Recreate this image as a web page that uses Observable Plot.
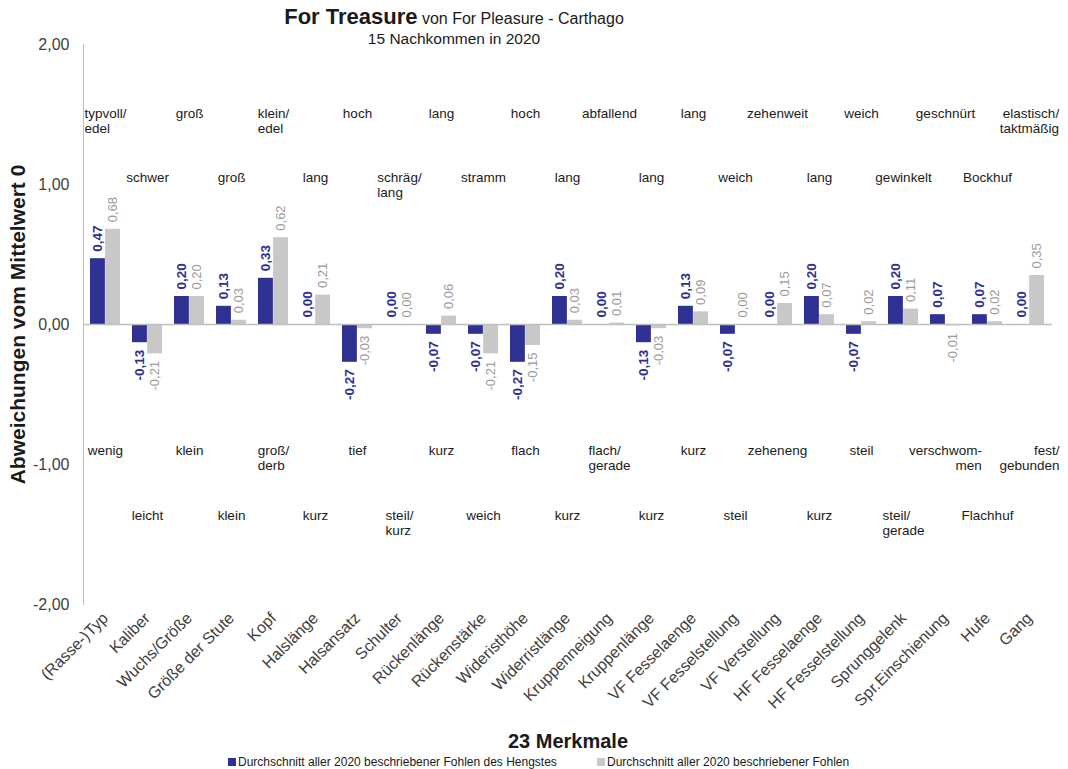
<!DOCTYPE html>
<html>
<head>
<meta charset="utf-8">
<script src="https://cdn.jsdelivr.net/npm/d3@7"></script>
<script src="https://cdn.jsdelivr.net/npm/@observablehq/plot@0.6"></script>
<style>
  body { margin: 0; background: #fff; font-family: "Liberation Sans", Arial, sans-serif; }
  #wrap { position: relative; width: 1068px; height: 769px; overflow: hidden; }
  #chart { position: absolute; left: 0; top: 0; }
  #title { position: absolute; left: 0; top: 6px; width: 908px; text-align: center; color: #1a1a1a; }
  #title .l1 { font-size: 16px; line-height: 22px; }
  #title .l1 b { font-size: 22px; }
  #title .l2 { font-size: 15.5px; line-height: 18px; }
  #legend { position: absolute; top: 755px; left: 0; width: 1068px; font-size: 12px; color: #1a1a1a; }
  #legend .item { position: absolute; white-space: nowrap; }
  #legend .sw { display: inline-block; width: 8px; height: 8px; margin-right: 2px; vertical-align: 0px; }
</style>
</head>
<body>
<div id="wrap">
  <div id="chart"></div>
  <div id="title">
    <div class="l1"><b>For Treasure</b> von For Pleasure - Carthago</div>
    <div class="l2">15 Nachkommen in 2020</div>
  </div>
  <div id="legend"></div>
</div>
<script>
// 23 Merkmale (linear beschriebene Exterieur- und Gangmerkmale)
const merkmale = [
  "(Rasse-)Typ", "Kaliber", "Wuchs/Größe", "Größe der Stute", "Kopf", "Halslänge",
  "Halsansatz", "Schulter", "Rückenlänge", "Rückenstärke", "Wideristhöhe", "Widerristlänge",
  "Kruppenneigung", "Kruppenlänge", "VF Fesselaenge", "VF Fesselstellung", "VF Verstellung",
  "HF Fesselaenge", "HF Fesselstellung", "Sprunggelenk", "Spr.Einschienung", "Hufe", "Gang"
];

// Durchschnitt der Fohlen des Hengstes
const hengst = [
  0.47, -0.13, 0.20, 0.13, 0.33, 0.00, -0.27, 0.00, -0.07, -0.07, -0.27, 0.20,
  0.00, -0.13, 0.13, -0.07, 0.00, 0.20, -0.07, 0.20, 0.07, 0.07, 0.00
];

// Durchschnitt aller beschriebenen Fohlen
const alle = [
  0.68, -0.21, 0.20, 0.03, 0.62, 0.21, -0.03, 0.00, 0.06, -0.21, -0.15, 0.03,
  0.01, -0.03, 0.09, 0.00, 0.15, 0.07, 0.02, 0.11, -0.01, 0.02, 0.35
];

// Ausprägung am positiven Ende der Skala
const oben = [
  "typvoll/\nedel", "schwer", "groß", "groß", "klein/\nedel", "lang", "hoch", "schräg/\nlang",
  "lang", "stramm", "hoch", "lang", "abfallend", "lang", "lang", "weich", "zehenweit",
  "lang", "weich", "gewinkelt", "geschnürt", "Bockhuf", "elastisch/\ntaktmäßig"
];

// Ausprägung am negativen Ende der Skala
const unten = [
  "wenig", "leicht", "klein", "klein", "groß/\nderb", "kurz", "tief", "steil/\nkurz",
  "kurz", "weich", "flach", "kurz", "flach/\ngerade", "kurz", "kurz", "steil", "zeheneng",
  "kurz", "steil", "steil/\ngerade", "verschwom-\nmen", "Flachhuf", "fest/\ngebunden"
];

const yTicks = [-2, -1, 0, 1, 2];
const serien = ["Durchschnitt aller 2020 beschriebener Fohlen des Hengstes", "Durchschnitt aller 2020 beschriebener Fohlen"];
const yTitel = "Abweichungen vom Mittelwert 0";
const xTitel = "23 Merkmale";

const BLAU = "#2E3192";
const GRAU = "#C8C8C8";
const GRAU_TEXT = "#9B9B9B";

const fmt = (v) => v.toFixed(2).replace(".", ",");

// layout
const W = 1068, H = 769;
const mL = 83, mR = 16, mT = 44, mB = H - 604;
const padIn = 0.28, padOut = 0.167;
const step = (W - mL - mR) / (merkmale.length - padIn + 2 * padOut);
const bw = step * (1 - padIn);
const half = bw / 2;
const FONT = "'Liberation Sans', Arial, sans-serif";
const DESCR_SIZE = 13.5;

const rows = merkmale.map((m, i) => ({
  merkmal: m, i, hengst: hengst[i], alle: alle[i], oben: oben[i], unten: unten[i]
}));

const textBase = {fontFamily: FONT};

// rotated value labels: above positive bars, below negative ones
const valueLabels = (key, color, weight, size, dx) => {
  const pos = rows.filter((d) => d[key] >= 0);
  const neg = rows.filter((d) => d[key] < 0);
  const common = {x: "merkmal", y: key, text: (d) => fmt(d[key]), rotate: -90, lineAnchor: "middle",
    fill: color, fontWeight: weight, fontSize: size, dx, ...textBase};
  return [
    Plot.text(pos, {...common, textAnchor: "start", dy: -7}),
    Plot.text(neg, {...common, textAnchor: "end", dy: 7})
  ];
};

// two-line descriptors are set as left- or right-aligned blocks
const rechtsbuendig = new Set(["elastisch/\ntaktmäßig", "verschwom-\nmen", "fest/\ngebunden"]);
const ctx = document.createElement("canvas").getContext("2d");
ctx.font = `${DESCR_SIZE}px ${FONT}`;
const blockWidth = (s) => Math.max(...s.split("\n").map((l) => ctx.measureText(l).width));

const descrStyle = {frameAnchor: "top", lineAnchor: "top", fontSize: DESCR_SIZE, lineHeight: 1.15, fill: "#1a1a1a", ...textBase};
const descr = (data, key, dy) => {
  const single = data.filter((d) => !d[key].includes("\n"));
  const multi = data.filter((d) => d[key].includes("\n"));
  return [
    Plot.text(single, {x: "merkmal", text: key, dy, ...descrStyle}),
    ...multi.map((d) => {
      const right = rechtsbuendig.has(d[key]);
      const w = blockWidth(d[key]);
      return Plot.text([d], {x: "merkmal", text: key, dy, ...descrStyle,
        textAnchor: right ? "end" : "start", dx: right ? w / 2 : -w / 2});
    })
  ];
};

const gerade = rows.filter((d) => d.i % 2 === 0);
const ungerade = rows.filter((d) => d.i % 2 === 1);

const chart = Plot.plot({
  width: W,
  height: H,
  marginLeft: mL,
  marginRight: mR,
  marginTop: mT,
  marginBottom: mB,
  style: {fontFamily: FONT, fontSize: "16px", color: "#404040", background: "transparent"},
  x: {domain: merkmale, paddingInner: padIn, paddingOuter: padOut, tickRotate: -45, tickSize: 0, tickPadding: 11, label: null},
  y: {domain: [-2, 2], ticks: yTicks, tickFormat: fmt, tickSize: 0, tickPadding: 14, label: null},
  marks: [
    Plot.frame({anchor: "left", stroke: "#BFBFBF"}),
    Plot.barY(rows, {x: "merkmal", y: "hengst", fill: BLAU, insetRight: half}),
    Plot.barY(rows, {x: "merkmal", y: "alle", fill: GRAU, insetLeft: half}),
    Plot.ruleY([0], {stroke: "#BFBFBF", strokeWidth: 1.5}),
    ...valueLabels("hengst", BLAU, "bold", 13.5, -half / 2),
    ...valueLabels("alle", GRAU_TEXT, "normal", 13, half / 2),
    ...descr(gerade, "oben", 106 - mT),
    ...descr(ungerade, "oben", 170 - mT),
    ...descr(gerade, "unten", 443 - mT),
    ...descr(ungerade, "unten", 508 - mT),
    Plot.text([yTitel], {frameAnchor: "left", textAnchor: "middle", rotate: -90, dx: -65, fontWeight: "bold", fontSize: 21, fill: "#1a1a1a", ...textBase}),
    Plot.text([xTitel], {frameAnchor: "bottom", dy: 143, fontWeight: "bold", fontSize: 20, fill: "#1a1a1a", ...textBase})
  ]
});
document.getElementById("chart").appendChild(chart);

// legend below the axis title
const legend = document.getElementById("legend");
const farben = [BLAU, GRAU];
const lefts = [228, 597];
serien.forEach((s, k) => {
  const item = document.createElement("div");
  item.className = "item";
  item.style.left = lefts[k] + "px";
  item.innerHTML = `<span class="sw" style="background:${farben[k]}"></span>${s}`;
  legend.appendChild(item);
});
</script>
</body>
</html>
